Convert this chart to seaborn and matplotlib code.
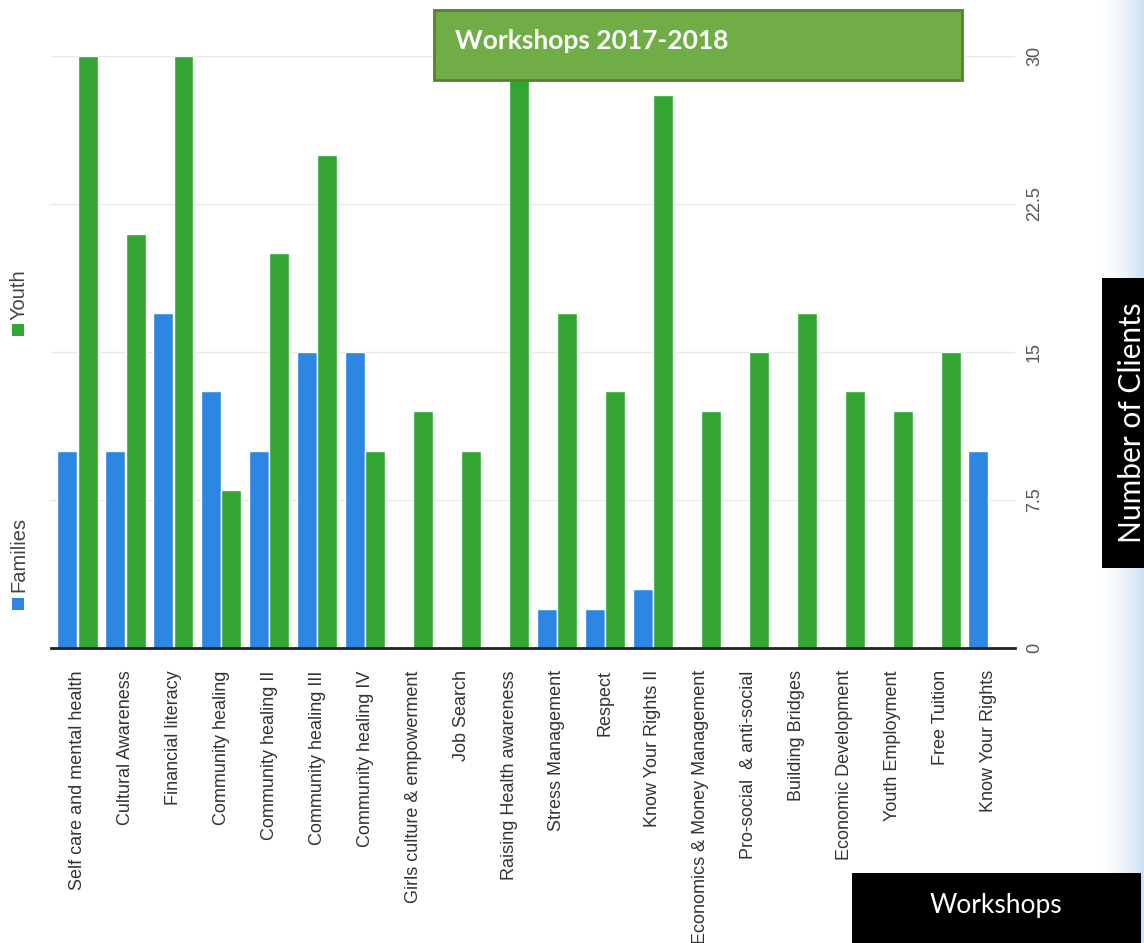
import numpy as np
import pandas as pd
import matplotlib
matplotlib.use("Agg")
import matplotlib.pyplot as plt
import seaborn as sns
from matplotlib.patches import Rectangle
from matplotlib.colors import LinearSegmentedColormap

categories = [
    "Self care and mental health", "Cultural Awareness", "Financial literacy",
    "Community healing", "Community healing II", "Community healing III",
    "Community healing IV", "Girls culture & empowerment", "Job Search",
    "Raising Health awareness", "Stress Management", "Respect",
    "Know Your Rights II", "Economics & Money Management", "Pro-social  & anti-social",
    "Building Bridges", "Economic Development", "Youth Employment",
    "Free Tuition", "Know Your Rights",
]
families = [10, 10, 17, 13, 10, 15, 15, 0, 0, 0, 2, 2, 3, 0, 0, 0, 0, 0, 0, 10]
youth = [30, 21, 30, 8, 20, 25, 10, 12, 10, 30, 17, 13, 28, 12, 15, 17, 13, 12, 15, 0]
series_names = ["Families", "Youth"]
y_ticks = [0, 7.5, 15, 22.5, 30]
y_tick_labels = ["0", "7.5", "15", "22.5", "30"]

df = pd.DataFrame({
    "Workshop": categories * 2,
    "Series": [series_names[0]] * len(categories) + [series_names[1]] * len(categories),
    "Clients": families + youth,
})

BLUE = "#2d86e2"
GREEN = "#33a532"
sns.set_theme(style="white")
plt.rcParams["font.family"] = ["Liberation Sans", "DejaVu Sans"]

W, H = 1144, 943
fig = plt.figure(figsize=(W / 100, H / 100), dpi=100)
fig.patch.set_facecolor("white")

# right-edge light blue gradient
gax = fig.add_axes([1100 / W, 0, 44 / W, 1], zorder=0)
grad = np.linspace(0, 1, 100).reshape(1, -1) ** 1.5
cmap = LinearSegmentedColormap.from_list("g", ["#ffffff", "#cfe1f6"])
gax.imshow(grad, aspect="auto", cmap=cmap, extent=[0, 1, 0, 1])
gax.axis("off")

ax = fig.add_axes([51 / W, 1 - 648 / H, (1015 - 51) / W, (648 - 56) / H], zorder=1)
ax.patch.set_alpha(0)
sns.barplot(data=df, x="Workshop", y="Clients", hue="Series", order=categories,
            hue_order=series_names, palette=[BLUE, GREEN], saturation=1,
            width=0.85, gap=0.02, legend=False, ax=ax, zorder=3)

ax.set_xlim(-0.55, len(categories) - 0.45)
ax.set_ylim(0, 30)
ax.set_xlabel("")
ax.set_ylabel("")
ax.yaxis.tick_right()
ax.set_yticks(y_ticks)
ax.set_yticklabels(y_tick_labels)
ax.tick_params(axis="y", length=0, pad=8, labelsize=13, labelcolor="#555555", labelrotation=90)
for t in ax.get_yticklabels():
    t.set_va("center")
ax.tick_params(axis="x", length=0, pad=16, labelsize=13, labelcolor="#333333", labelrotation=90)
for sp in ["top", "left", "right"]:
    ax.spines[sp].set_visible(False)
ax.spines["bottom"].set_color("#222222")
ax.spines["bottom"].set_linewidth(2)
ax.spines["bottom"].set_zorder(5)
ax.grid(axis="y", color="#e8e8e8", linewidth=1)
ax.set_axisbelow(True)
for p in ax.patches:
    p.set_clip_on(False)

def fx(x):
    return x / W

def fy(y):
    return 1 - y / H

# manual vertical legend
fig.patches.append(Rectangle((fx(12), fy(610)), 12 / W, 12 / H, transform=fig.transFigure,
                             facecolor=BLUE, edgecolor="none"))
fig.text(fx(19), fy(592), "Families", rotation=90, ha="center", va="bottom",
         fontsize=14.5, color="#444444")
fig.patches.append(Rectangle((fx(12), fy(336)), 12 / W, 12 / H, transform=fig.transFigure,
                             facecolor=GREEN, edgecolor="none"))
fig.text(fx(19), fy(320), "Youth", rotation=90, ha="center", va="bottom",
         fontsize=14.5, color="#444444")

# title box
fig.patches.append(Rectangle((fx(434), fy(80)), (962 - 434) / W, 70 / H, transform=fig.transFigure,
                             facecolor="#70ad47", edgecolor="#548235", linewidth=2, zorder=10))
fig.text(fx(455), fy(41), "Workshops 2017-2018", ha="left", va="center", fontsize=19,
         fontweight="bold", color="white", family=["Lato", "DejaVu Sans"], zorder=11)

# Number of Clients box
fig.patches.append(Rectangle((fx(1102), fy(568)), 50 / W, (568 - 278) / H, transform=fig.transFigure,
                             facecolor="black", edgecolor="none", zorder=10))
fig.text(fx(1132), fy(423), "Number of Clients", rotation=90, ha="center", va="center",
         fontsize=21.5, color="white", family=["Lato", "DejaVu Sans"], zorder=11)

# Workshops box
fig.patches.append(Rectangle((fx(852), fy(943)), (1141 - 852) / W, (943 - 873) / H,
                             transform=fig.transFigure, facecolor="black", edgecolor="none", zorder=10))
fig.text(fx(996), fy(905), "Workshops", ha="center", va="center", fontsize=19,
         color="white", family=["Lato", "DejaVu Sans"], zorder=11)

fig.savefig("out.png", dpi=100)
